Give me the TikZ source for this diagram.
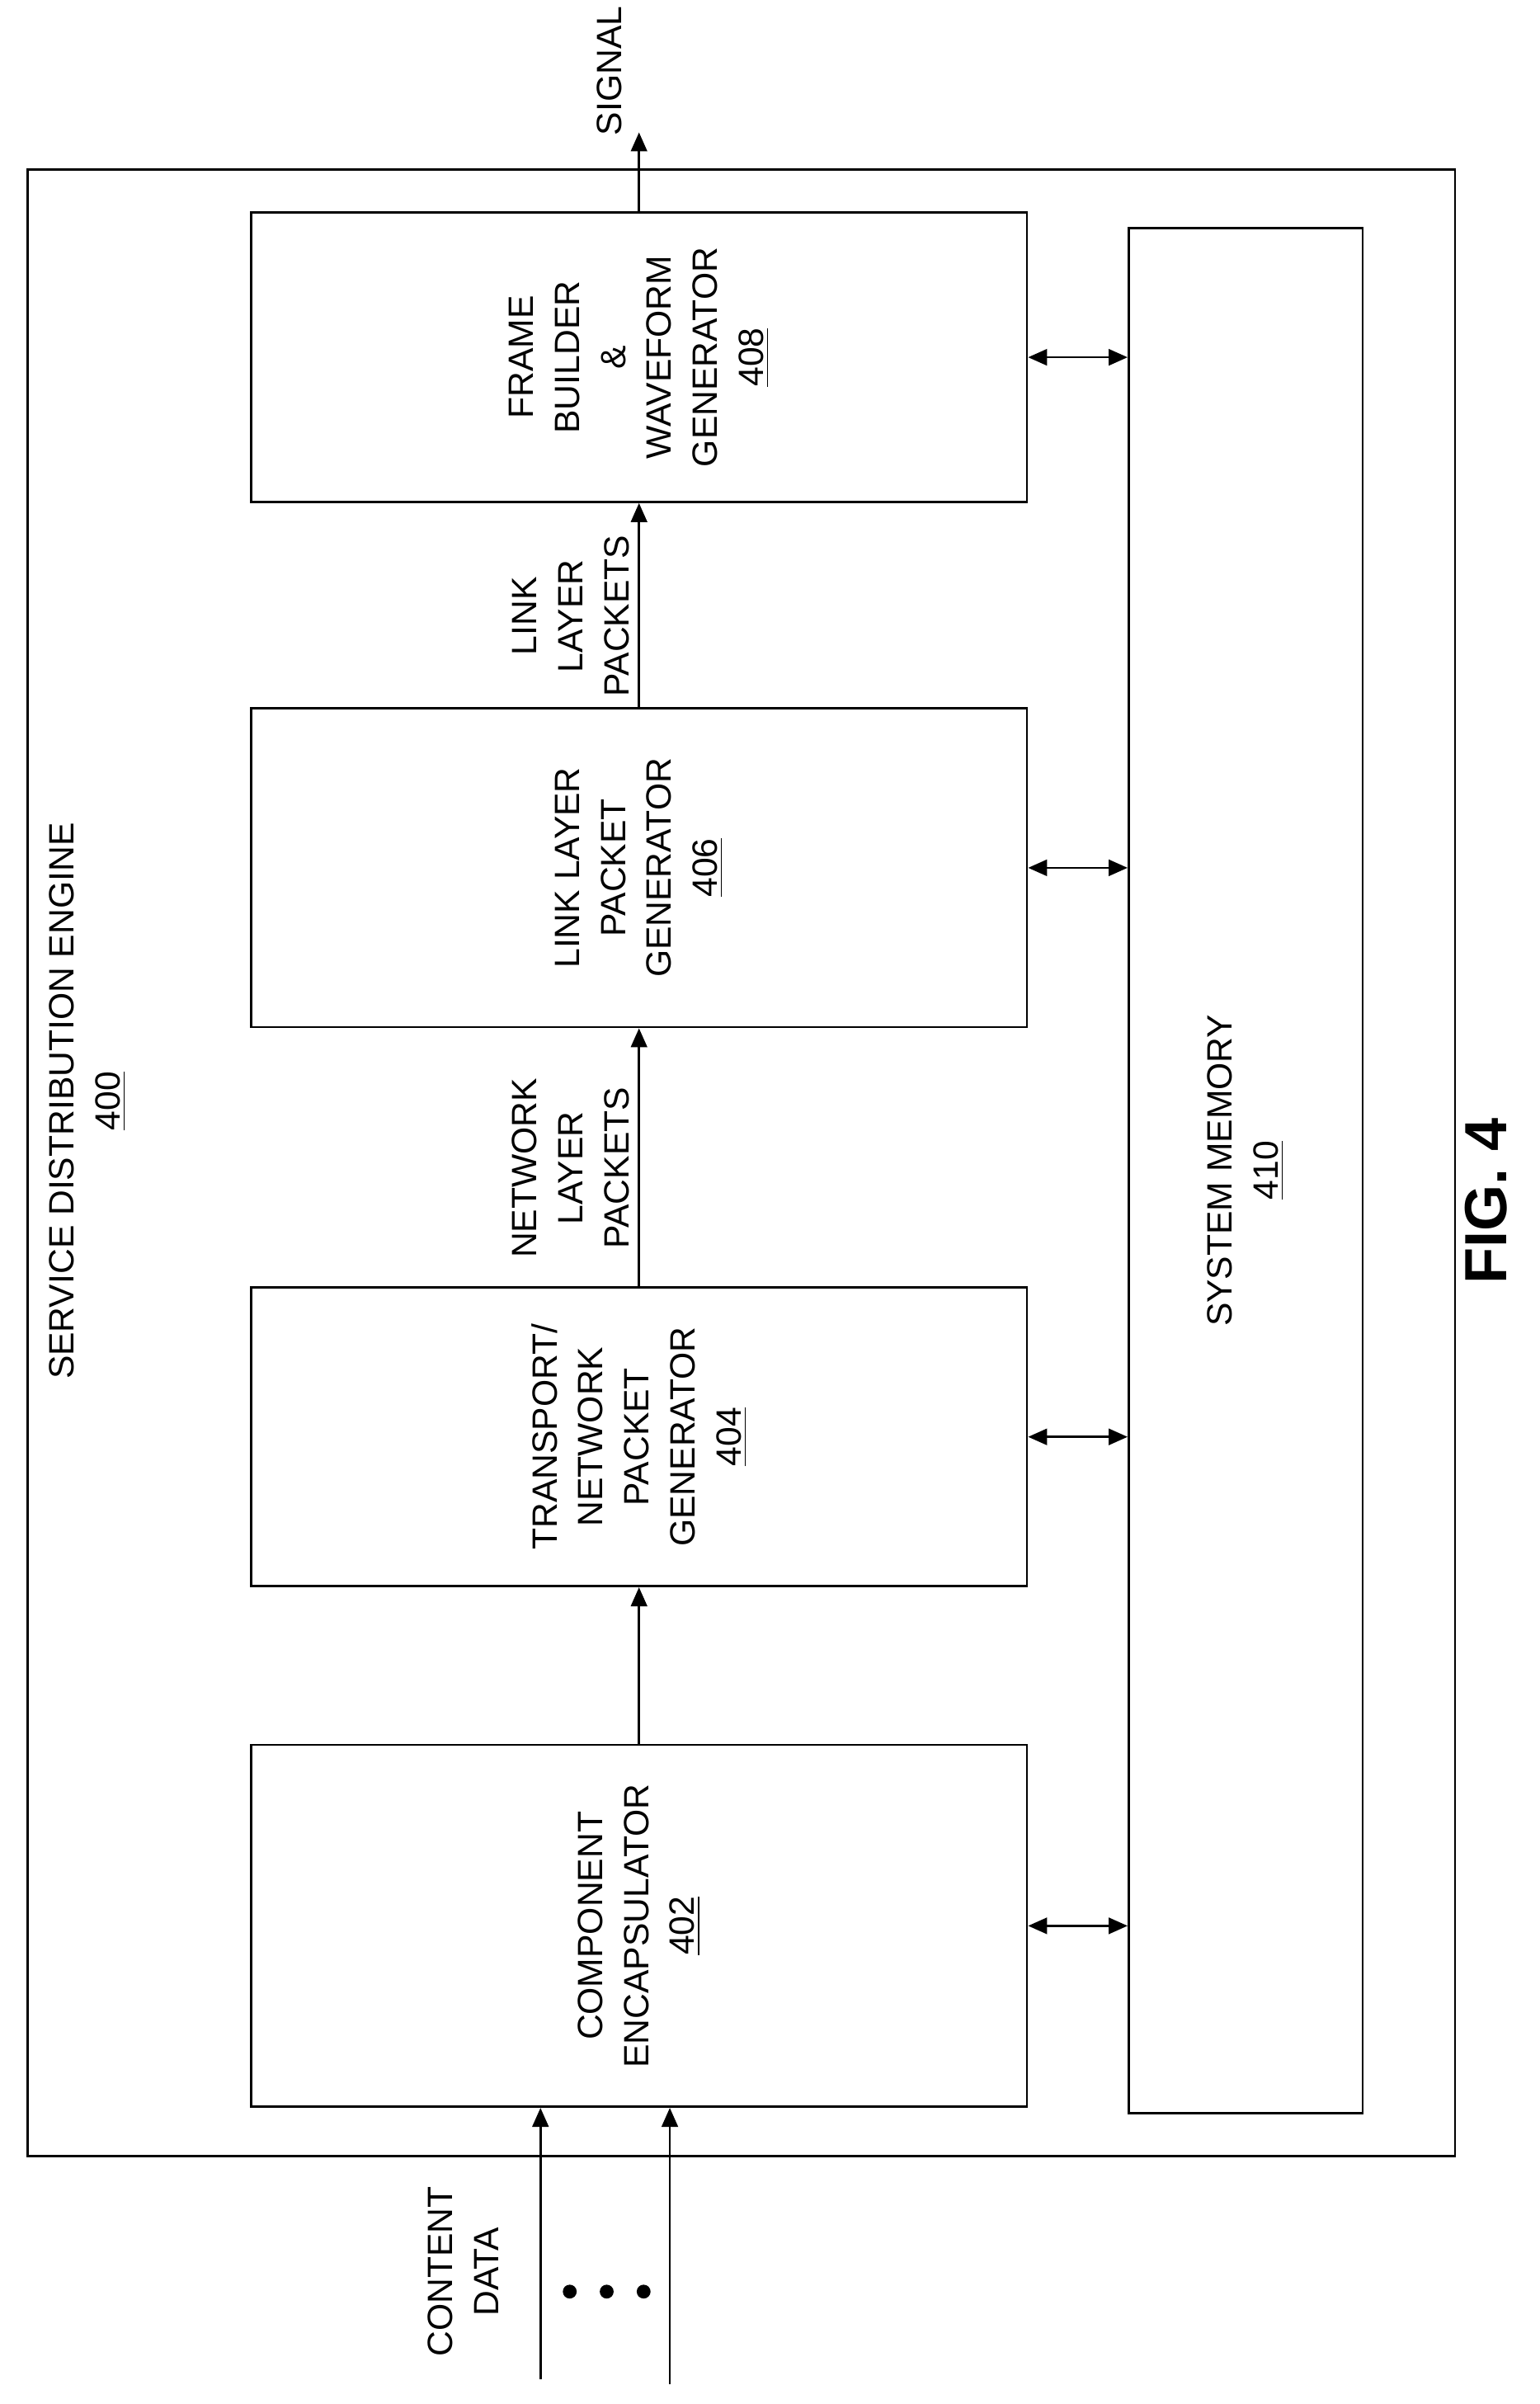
\documentclass[tikz,border=0pt]{standalone}
\usepackage{fontspec}
\setmainfont{Liberation Sans}
\usetikzlibrary{arrows.meta}

\begin{document}
\begin{tikzpicture}[x=0.02cm, y=-0.02cm, thick,
    box/.style={draw, minimum width=504*0.02cm},
    lbl/.style={rotate=90, align=center, font=\fontsize{13}{17}\selectfont},
    >={Triangle[length=7pt, width=6pt]}]
    \useasboundingbox (0,0) rectangle (1000,1561);

    % Outer engine
    \draw (18,110) rectangle (945,1400);
    \node[lbl] (sde) at (57,715) {SERVICE DISTRIBUTION ENGINE\\\underline{400}};

    % Blocks
    \node[box, minimum height=235*0.02cm] (ce) at (415,1250.5) {};
    \node[lbl] at (ce) {COMPONENT\\ENCAPSULATOR\\\underline{402}};
    \node[box, minimum height=194*0.02cm] (tn) at (415,933) {};
    \node[lbl] at (tn) {TRANSPORT/\\NETWORK\\PACKET\\GENERATOR\\\underline{404}};
    \node[box, minimum height=207*0.02cm] (ll) at (415,563.5) {};
    \node[lbl] at (ll) {LINK LAYER\\PACKET\\GENERATOR\\\underline{406}};
    \node[box, minimum height=188*0.02cm] (fb) at (415,232) {};
    \node[lbl] at (fb) {FRAME\\BUILDER\\\&\\WAVEFORM\\GENERATOR\\\underline{408}};

    % System memory
    \node[draw, minimum width=152*0.02cm, minimum height=1224*0.02cm] (mem) at (809,760) {};
    \node[lbl] at (mem) {SYSTEM MEMORY\\\underline{410}};

    % Data path
    \draw[->] (ce.north) -- (tn.south);
    \draw[->] (tn.north) -- node[lbl, left=4pt, anchor=south] {NETWORK\\LAYER\\PACKETS} (ll.south);
    \draw[->] (ll.north) -- node[lbl, left=4pt, anchor=south] {LINK\\LAYER\\PACKETS} (fb.north |- fb.south);
    \coordinate (sig) at (415,86);
    \draw[->] (fb.north) -- (sig);
    \node[lbl] (signal) at (396,46) {SIGNAL};

    % Memory links
    \foreach \blk in {ce,tn,ll,fb}
        \draw[<->] (\blk.east) -- (\blk.east -| mem.west);

    % Content inputs
    \coordinate (in1) at (351,1545);
    \coordinate (in2) at (435,1548);
    \draw[->] (in1) -- (in1 |- ce.south);
    \draw[->] (in2) -- (in2 |- ce.south);
    \foreach \yy in {370,394,418}
        \fill (\yy,1488) circle (4.5);
    \node[lbl] (cd) at (301,1475) {CONTENT\\DATA};

    \node[rotate=90, font=\bfseries\fontsize{22}{26}\selectfont] (fig) at (965,780) {FIG. 4};
\end{tikzpicture}
\end{document}
